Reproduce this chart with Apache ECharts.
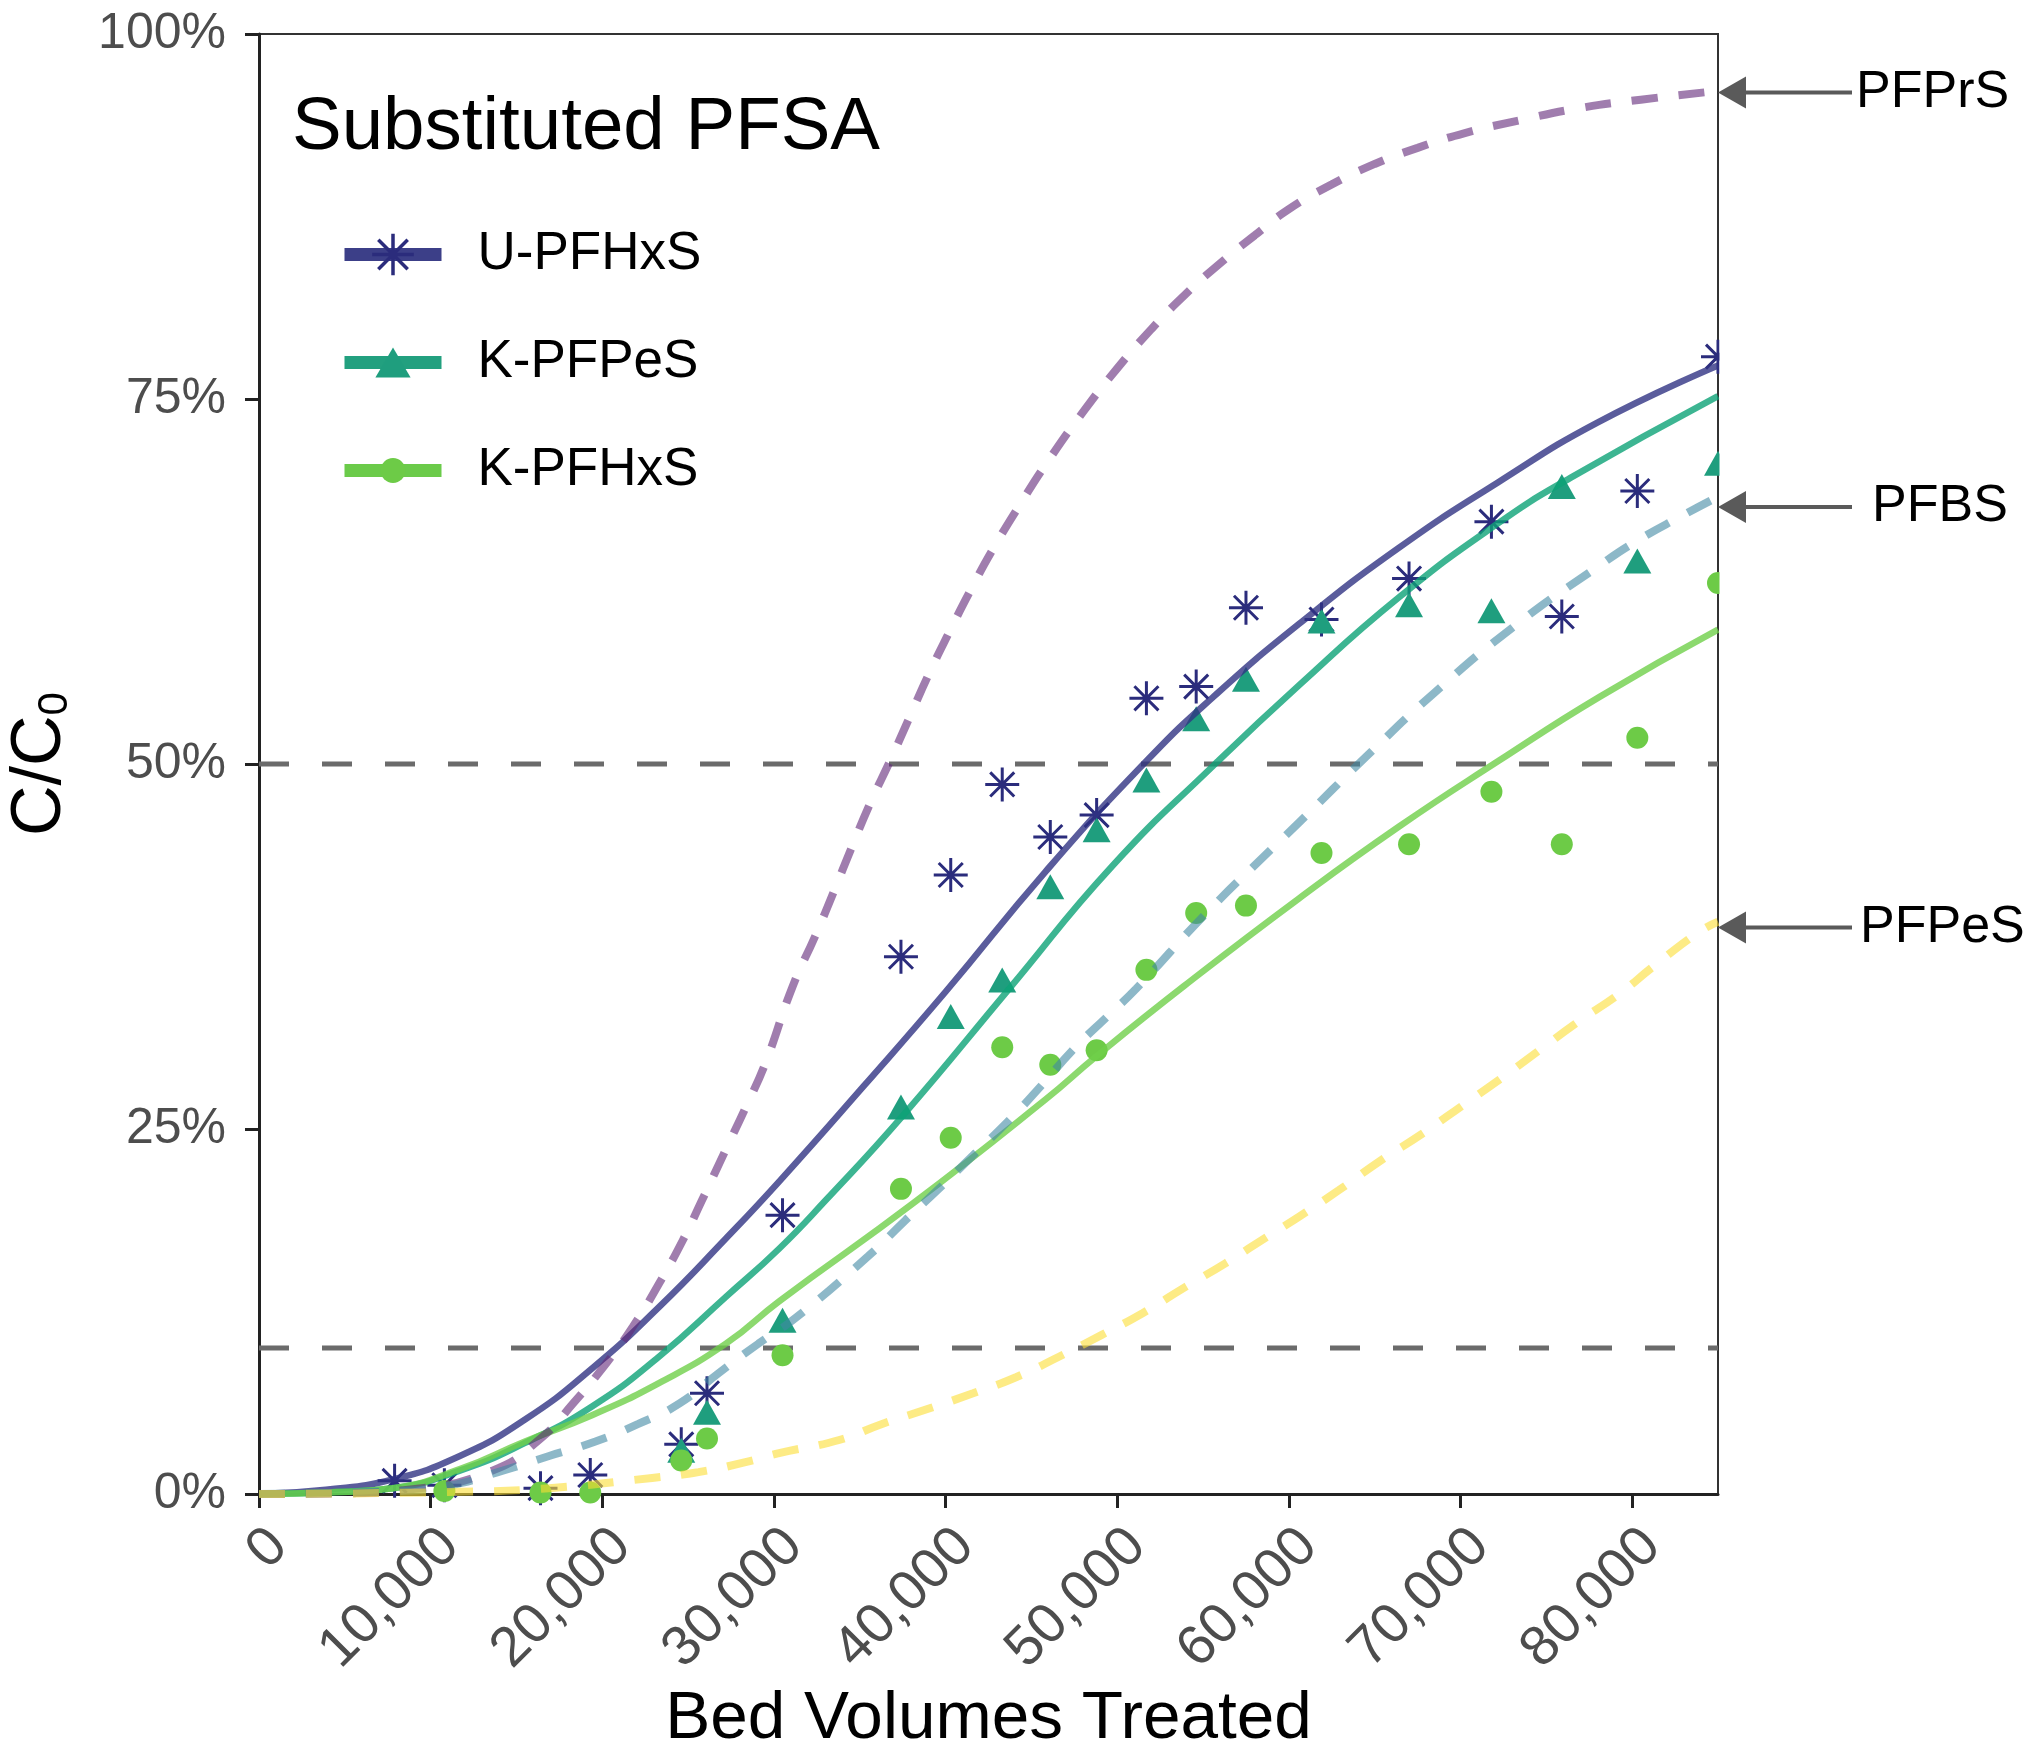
<!DOCTYPE html>
<html><head><meta charset="utf-8">
<script src="https://cdn.jsdelivr.net/npm/echarts@6/dist/echarts.min.js"></script>
<style>html,body{margin:0;padding:0;background:#fff;} #chart{width:2040px;height:1751px;}</style>
</head><body><div id="chart"></div>
<script>
const FONT = '"Liberation Sans", Arial, Helvetica, sans-serif';

// ---- axes ----
const xMax = 85000;
const xTickValues = [0, 10000, 20000, 30000, 40000, 50000, 60000, 70000, 80000];
const xTickLabels = ['0', '10,000', '20,000', '30,000', '40,000', '50,000', '60,000', '70,000', '80,000'];
const yTickValues = [0, 25, 50, 75, 100];
const yTickLabels = ['0%', '25%', '50%', '75%', '100%'];

// ---- measured points (bed volumes, % C/C0); null = not visible ----
const pointBV = [7900, 10800, 16400, 19300, 24600, 26100, 30500, 37400, 40300, 43300, 46100, 48800, 51700, 54600, 57500, 61900, 67000, 71800, 75900, 80300, 85000];
const uPFHxSPts = [0.9, 0.6, 0.4, 1.3, 3.4, 6.9, 19.1, 36.8, 42.4, 48.6, 45.0, 46.5, 54.5, 55.3, 60.7, 59.9, 62.7, 66.6, 60.1, 68.7, 77.9];
const kPFPeSPts = [null, null, null, null, 3.0, 5.6, 11.9, 26.5, 32.7, 35.2, 41.6, 45.5, 48.9, 53.1, 55.8, 59.8, 60.9, 60.5, 69.0, 63.9, 70.6];
const kPFHxSPts = [null, 0.2, 0.1, 0.1, 2.3, 3.8, 9.5, 20.9, 24.4, 30.6, 29.4, 30.4, 35.9, 39.8, 40.3, 43.9, 44.5, 48.1, 44.5, 51.8, 62.4];

// ---- fitted curves (solid) ----
const uPFHxSFitX = [0, 3900, 7800, 11700, 15500, 19400, 23300, 27200, 30300, 35200, 40000, 45800, 51700, 55600, 60600, 66400, 72200, 78000, 85000];
const uPFHxSFitY = [0, 0.3, 1.0, 2.6, 5.1, 8.6, 12.8, 17.5, 21.4, 27.9, 34.4, 42.6, 50.2, 54.6, 59.6, 64.8, 69.3, 73.4, 77.3];
const kPFPeSFitX = [0, 3900, 7800, 11700, 15500, 19400, 23300, 27200, 30300, 33000, 37500, 43700, 49700, 55700, 60600, 66400, 72200, 76400, 85000];
const kPFPeSFitY = [0, 0.1, 0.4, 1.6, 3.5, 6.0, 9.4, 13.5, 16.8, 20.1, 25.9, 34.6, 43.0, 50.0, 55.4, 61.4, 66.5, 69.6, 75.2];
const kPFHxSFitX = [0, 3900, 7800, 11700, 15500, 19400, 23300, 27200, 30300, 38100, 45800, 48800, 53900, 60600, 66400, 72200, 78100, 85000];
const kPFHxSFitY = [0, 0.1, 0.4, 1.7, 3.6, 5.4, 7.6, 10.3, 13.2, 19.9, 27.0, 30.0, 34.8, 40.8, 45.7, 50.2, 54.6, 59.2];

// ---- reference curves (dashed) ----
const pfprsX = [0, 5000, 8700, 13600, 16500, 18300, 20200, 21800, 23300, 24700, 25800, 27200, 28400, 29500, 31100, 32400, 33500, 34500, 35600, 36800, 37900, 39000, 40200, 41500, 42700, 44400, 46000, 48000, 50000, 52000, 54000, 56000, 58000, 60000, 62500, 65000, 67500, 70200, 73500, 76800, 80500, 85000];
const pfprsY = [0, 0.05, 0.3, 1.6, 3.9, 6.2, 8.9, 11.5, 14.4, 17.4, 20.1, 23.6, 26.6, 29.5, 34.8, 38.2, 41.3, 44.2, 47.3, 50.3, 53.2, 56.1, 59.0, 62.0, 64.6, 67.9, 70.8, 74.1, 77.1, 79.8, 82.2, 84.3, 86.2, 88.0, 89.7, 91.1, 92.2, 93.2, 94.1, 94.9, 95.5, 96.1];
const pfbsX = [0, 8000, 11200, 14200, 16900, 19600, 22100, 24500, 26800, 29100, 31300, 35500, 37700, 39600, 41600, 43700, 45600, 47400, 49500, 51100, 55200, 59100, 60600, 64500, 68400, 73200, 78100, 80300, 82900, 85000];
const pfbsY = [0, 0.2, 0.6, 1.6, 2.6, 3.6, 4.8, 6.2, 8.3, 10.3, 12.1, 16.3, 18.8, 20.9, 23.2, 25.6, 28.0, 30.4, 32.8, 34.6, 39.8, 44.3, 46.0, 50.5, 54.8, 59.5, 63.6, 65.3, 67.0, 68.3];
const pfpesX = [0, 11700, 16900, 22900, 25600, 28400, 30300, 33800, 36300, 38900, 41600, 44100, 46600, 49100, 51500, 54000, 56300, 58700, 60600, 62900, 65300, 67800, 70100, 72400, 74600, 76800, 79300, 81200, 83900, 85000];
const pfpesY = [0, 0.15, 0.4, 1.1, 1.5, 2.2, 2.8, 3.7, 4.8, 5.8, 6.9, 8.0, 9.4, 10.9, 12.4, 14.2, 15.8, 17.6, 19.0, 20.8, 22.8, 24.7, 26.6, 28.5, 30.4, 32.3, 34.3, 36.1, 38.5, 39.2];

// ---- thresholds and right-side labels ----
const thresholdLevels = [10, 50];
const annotLabels = ['PFPrS', 'PFBS', 'PFPeS'];
const annotValues = [96.0, 67.6, 38.8];

const pairs = (xs, ys) => xs.map((x, i) => [x, ys[i]]).filter(p => p[1] !== null);

const asteriskPath = 'path://M0,-10L0,10M-10,0L10,0M-7.07,-7.07L7.07,7.07M-7.07,7.07L7.07,-7.07';
const legendTriPath = 'path://M0,-18.75L22,18.75L-22,18.75Z M-26,-26 M26,26';
const legendCirPath = 'path://M-15.6,0A15.6,15.6,0,1,1,15.6,0A15.6,15.6,0,1,1,-15.6,0Z M-26,-26 M26,26';

const C = {
  uPt: '#2B2C7C', pePt: '#1F9E7E', hxPt: '#6DCB47',
  uLn: 'rgba(49,51,131,0.8)', peLn: 'rgba(13,162,119,0.8)', hxLn: 'rgba(111,207,74,0.8)',
  uLeg: '#3C3F88', peLeg: '#22A07F', hxLeg: '#6BCB4A',
  prs: 'rgba(97,38,120,0.6)', bs: 'rgba(65,137,163,0.6)', pes: 'rgba(252,222,52,0.6)'
};
const SMOOTH = 0.5;

const chart = echarts.init(document.getElementById('chart'));

const series = [];
thresholdLevels.forEach(lv => series.push({
  type: 'line', data: [[0, lv], [xMax, lv]], showSymbol: false, symbol: 'none', silent: true, z: 1,
  lineStyle: { color: '#6b6b6b', width: 5, type: [30, 33] }
}));
const fitLine = (name, xs, ys, color, sym, itemStyle) => ({
  name, type: 'line', data: pairs(xs, ys), smooth: SMOOTH, showSymbol: false, symbol: sym, z: 4, silent: true,
  lineStyle: { color, width: 6.5 }, itemStyle
});
const refLine = (name, xs, ys, color) => ({
  name, type: 'line', data: pairs(xs, ys), smooth: SMOOTH, showSymbol: false, symbol: 'none', z: 5, silent: true,
  lineStyle: { color, width: 8, type: [26, 21] }
});
series.push(
  { name: 'U-PFHxS data', type: 'scatter', data: pairs(pointBV, uPFHxSPts), symbol: asteriskPath, symbolSize: 34, z: 3, silent: true,
    itemStyle: { color: 'rgba(0,0,0,0)', borderColor: C.uPt, borderWidth: 3, opacity: 1 } },
  { name: 'K-PFPeS data', type: 'scatter', data: pairs(pointBV, kPFPeSPts), symbol: 'triangle', symbolSize: [28, 25], z: 3, silent: true,
    itemStyle: { color: C.pePt, opacity: 1 } },
  { name: 'K-PFHxS data', type: 'scatter', data: pairs(pointBV, kPFHxSPts), symbol: 'circle', symbolSize: 22, z: 3, silent: true,
    itemStyle: { color: C.hxPt, opacity: 1 } },
  fitLine('U-PFHxS', uPFHxSFitX, uPFHxSFitY, C.uLn, asteriskPath, { color: 'rgba(0,0,0,0)', borderColor: C.uPt, borderWidth: 3 }),
  fitLine('K-PFPeS', kPFPeSFitX, kPFPeSFitY, C.peLn, legendTriPath, { color: C.pePt }),
  fitLine('K-PFHxS', kPFHxSFitX, kPFHxSFitY, C.hxLn, legendCirPath, { color: C.hxPt }),
  refLine('PFPrS', pfprsX, pfprsY, C.prs),
  refLine('PFBS', pfbsX, pfbsY, C.bs),
  refLine('PFPeS', pfpesX, pfpesY, C.pes)
);

chart.setOption({
  animation: false,
  backgroundColor: '#ffffff',
  title: { text: 'Substituted PFSA', left: 292, top: 91, padding: 0,
    textStyle: { fontSize: 74.5, fontWeight: 'normal', color: '#000', fontFamily: FONT } },
  legend: {
    orient: 'vertical', left: 333, top: 223, itemWidth: 97, itemHeight: 52, itemGap: 55,
    selectedMode: false,
    textStyle: { fontSize: 53, fontFamily: FONT, color: '#000', padding: [0, 0, 0, 31], lineHeight: 52 },
    lineStyle: { width: 13 },
    data: [
      { name: 'U-PFHxS', itemStyle: { color: 'rgba(0,0,0,0)', borderColor: C.uPt, borderWidth: 3.5 }, lineStyle: { color: C.uLeg, width: 13 } },
      { name: 'K-PFPeS', itemStyle: { color: C.pePt, borderWidth: 0 }, lineStyle: { color: C.peLeg, width: 13 } },
      { name: 'K-PFHxS', itemStyle: { color: C.hxPt, borderWidth: 0 }, lineStyle: { color: C.hxLeg, width: 13 } }
    ]
  },
  grid: { left: 259, right: 322, top: 34, bottom: 257, show: true, borderColor: '#333', borderWidth: 2,
    containLabel: false, outerBoundsMode: 'none' },
  xAxis: {
    type: 'value', min: 0, max: xMax, interval: 10000,
    axisLine: { show: true, onZero: false, lineStyle: { color: '#222', width: 3 } },
    axisTick: { show: true, length: 14, customValues: xTickValues, lineStyle: { color: '#222', width: 3 } },
    axisLabel: { customValues: xTickValues, rotate: 45, margin: 24, verticalAlign: 'top', fontSize: 56, color: '#4D4D4D', fontFamily: FONT,
      formatter: v => { const i = xTickValues.indexOf(v); return i >= 0 ? xTickLabels[i] : ''; } },
    splitLine: { show: false },
    name: 'Bed Volumes Treated', nameLocation: 'middle', nameGap: 191,
    nameTextStyle: { fontSize: 67.5, color: '#000', fontFamily: FONT }
  },
  yAxis: {
    type: 'value', min: 0, max: 100, interval: 25,
    axisLine: { show: true, lineStyle: { color: '#222', width: 3 } },
    axisTick: { show: true, length: 14, lineStyle: { color: '#222', width: 3 } },
    axisLabel: { margin: 33, fontSize: 50, color: '#4D4D4D', fontFamily: FONT,
      formatter: v => { const i = yTickValues.indexOf(v); return i >= 0 ? yTickLabels[i] : ''; } },
    splitLine: { show: false },
    name: '{m|C/C}{s|0}', nameLocation: 'middle', nameRotate: 90, nameGap: 183,
    nameTextStyle: { color: '#000', fontFamily: FONT, fontSize: 70,
      rich: { m: { fontSize: 70, fontFamily: FONT, color: '#000' },
              s: { fontSize: 42, lineHeight: 10, verticalAlign: 'bottom', fontFamily: FONT, color: '#000' } } }
  },
  series: series
});

// right-side arrows + labels, positioned from the data scale
const textOffsets = [138, 154, 142];
const graphics = [];
const pTop = chart.convertToPixel({ gridIndex: 0 }, [xMax, 100]);
const pBot = chart.convertToPixel({ gridIndex: 0 }, [xMax, 0]);
graphics.push({ type: 'rect', z: 50, silent: true,
  shape: { x: pTop[0] + 1.5, y: pTop[1] - 30, width: 40, height: pBot[1] - pTop[1] + 28 }, style: { fill: '#fff' } });
annotLabels.forEach((lab, i) => {
  const p = chart.convertToPixel({ gridIndex: 0 }, [xMax, annotValues[i]]);
  const tipX = p[0], y = p[1];
  graphics.push({ type: 'line', z: 60, silent: true, shape: { x1: tipX + 20, y1: y, x2: tipX + 134, y2: y },
    style: { stroke: '#5a5a5a', lineWidth: 4 } });
  graphics.push({ type: 'polygon', z: 60, silent: true, shape: { points: [[tipX, y], [tipX + 28, y - 16], [tipX + 28, y + 16]] },
    style: { fill: '#5a5a5a' } });
  graphics.push({ type: 'text', z: 60, silent: true, x: tipX + textOffsets[i], y: y,
    style: { text: lab, fontSize: 52, fontFamily: FONT, fill: '#000', align: 'left', verticalAlign: 'middle' } });
});
chart.setOption({ graphic: graphics });
</script>
</body></html>
